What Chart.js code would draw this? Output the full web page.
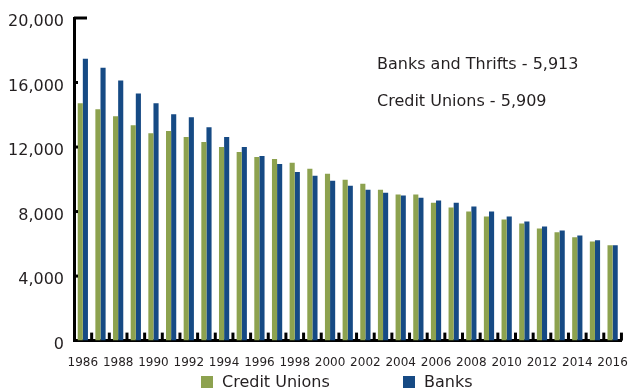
<!DOCTYPE html>
<html lang="en">
<head>
    <meta charset="UTF-8">
    <title>Banks and Credit Unions</title>
    <script src="https://cdn.jsdelivr.net/npm/chart.js@4.4.1/dist/chart.umd.min.js"></script>
    <style>
        html, body { margin: 0; padding: 0; background: #fff; }
        .wrap { position: relative; width: 643px; height: 388px; overflow: hidden; }
        .note { position: absolute; left: 377px; font-family: 'DejaVu Sans', sans-serif; font-size: 16px; line-height: 16px; color: #231f20; white-space: nowrap; }
        .legend { position: absolute; top: 374px; font-family: 'DejaVu Sans', sans-serif; font-size: 16px; line-height: 16px; color: #231f20; white-space: nowrap; }
        .legend span { display: inline-block; width: 12px; height: 12px; margin-right: 9px; vertical-align: -1px; }
    </style>
</head>
<body>
    <div class="wrap">
        <canvas id="chart" width="643" height="388"></canvas>
        <div class="note" style="top:56px">Banks and Thrifts - 5,913</div>
        <div class="note" style="top:93px">Credit Unions - 5,909</div>
        <div id="legend"></div>
    </div>
    <script>
        // data
        const years = ['1986','1987','1988','1989','1990','1991','1992','1993','1994','1995','1996','1997','1998','1999','2000','2001',
                       '2002','2003','2004','2005','2006','2007','2008','2009','2010','2011','2012','2013','2014','2015','2016'];
        const creditUnions = [14710,14340,13910,13350,12860,12990,12620,12310,12000,11690,11390,11260,11020,10650,10340,9970,
                              9720,9350,9050,9050,8550,8250,8000,7690,7510,7260,6950,6710,6400,6150,5909];
        const banks = [17480,16920,16120,15320,14710,14030,13850,13230,12620,12000,11450,10950,10460,10220,9910,9600,
                       9350,9170,8990,8860,8680,8550,8310,8000,7690,7390,7080,6830,6520,6220,5913];
        const yTicks = [0, 4000, 8000, 12000, 16000, 20000];

        const green = '#8da24f';
        const blue = '#164a84';

        // tick marks drawn inside the plot, like the original
        const tickMarks = {
            id: 'tickMarks',
            afterDatasetsDraw(chart) {
                const ctx = chart.ctx, x = chart.scales.x, y = chart.scales.y;
                const area = chart.chartArea;
                ctx.save();
                ctx.strokeStyle = '#000';
                ctx.lineWidth = 3;
                yTicks.forEach(v => {
                    if (v === 0) return;
                    const py = y.getPixelForValue(v);
                    ctx.beginPath();
                    ctx.moveTo(area.left, py);
                    ctx.lineTo(area.left + (v === 20000 ? 13 : 4), py);
                    ctx.stroke();
                });
                for (let i = 1; i <= years.length; i++) {
                    const px = i < years.length
                        ? (x.getPixelForValue(i - 1) + x.getPixelForValue(i)) / 2
                        : area.right;
                    ctx.beginPath();
                    ctx.moveTo(px, area.bottom);
                    ctx.lineTo(px, area.bottom - 8);
                    ctx.stroke();
                }
                ctx.restore();
            }
        };

        Chart.defaults.font.family = "'DejaVu Sans', sans-serif";
        Chart.defaults.color = '#231f20';

        const chart = new Chart(document.getElementById('chart').getContext('2d'), {
            type: 'bar',
            data: {
                labels: years,
                datasets: [
                    { label: 'Credit Unions', data: creditUnions, backgroundColor: green, categoryPercentage: 0.58, barPercentage: 1.0 },
                    { label: 'Banks', data: banks, backgroundColor: blue, categoryPercentage: 0.58, barPercentage: 1.0 }
                ]
            },
            options: {
                responsive: false,
                animation: false,
                layout: { padding: { left: 0, right: 7, top: 8, bottom: 3 } },
                plugins: {
                    legend: { display: false },
                    tooltip: { enabled: false }
                },
                scales: {
                    x: {
                        grid: { display: false, drawTicks: false },
                        border: { display: true, color: '#000', width: 3 },
                        ticks: {
                            autoSkip: false, maxRotation: 0, padding: 15,
                            font: { size: 12 },
                            callback: function(v, i) { return i % 2 === 0 ? years[i] : ''; }
                        }
                    },
                    y: {
                        min: 0, max: 20000,
                        afterFit(scale) { scale.width = 74; },
                        grid: { display: false, drawTicks: false },
                        border: { display: true, color: '#000', width: 3 },
                        ticks: { stepSize: 4000, padding: 10, labelOffset: 4, font: { size: 16, lineHeight: 1 } }
                    }
                }
            },
            plugins: [tickMarks]
        });

        // legend below the axis, built from the datasets
        const legendLeft = [201, 403];
        const legendEl = document.getElementById('legend');
        chart.data.datasets.forEach((ds, i) => {
            legendEl.innerHTML += `<div class="legend" style="left:${legendLeft[i]}px"><span style="background:${ds.backgroundColor}"></span>${ds.label}</div>`;
        });
    </script>
</body>
</html>
